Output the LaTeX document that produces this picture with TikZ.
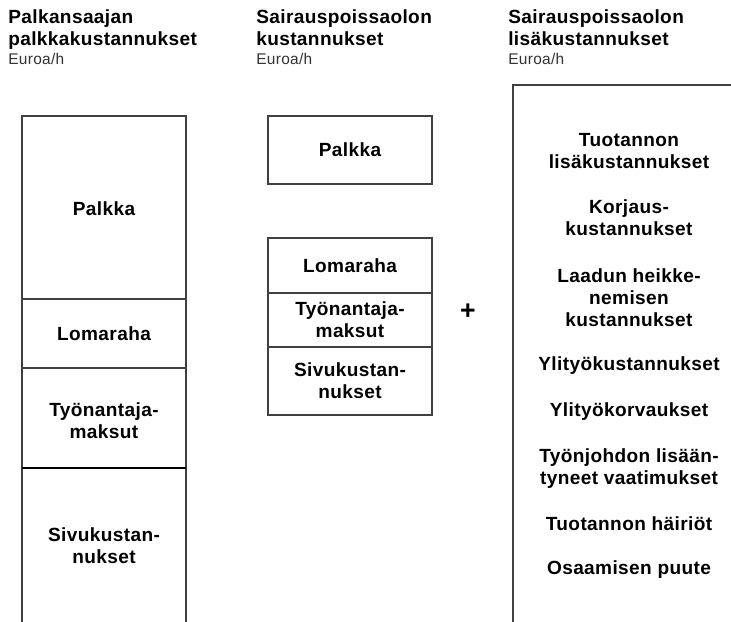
\documentclass[tikz,border=0pt]{standalone}
\usepackage{fontspec}
\setmainfont{Liberation Sans}[LetterSpace=2]
\begin{document}
\begin{tikzpicture}[x=0.75pt,y=-0.75pt,
  box/.style={draw=black!75,line width=0.8pt},
  lbl/.style={inner sep=0pt,align=center,font=\bfseries\fontsize{14.3}{16.5}\selectfont},
  head/.style={inner sep=0pt,anchor=base west,font=\bfseries\fontsize{14.3}{16.5}\selectfont},
  unit/.style={inner sep=0pt,anchor=base west,text=black!80,font=\fontsize{11.6}{13}\selectfont}]
\useasboundingbox[fill=white] (0,0) rectangle (731,621);
% headers
\node[head] (h1a) at (8,23) {Palkansaajan};
\node[head] (h1b) at (8,45) {palkkakustannukset};
\node[unit] (h1c) at (8,64) {Euroa/h};
\node[head] (h2a) at (256,23) {Sairauspoissaolon};
\node[head] (h2b) at (256,45) {kustannukset};
\node[unit] (h2c) at (256,64) {Euroa/h};
\node[head] (h3a) at (508,23) {Sairauspoissaolon};
\node[head] (h3b) at (508,45) {lisäkustannukset};
\node[unit] (h3c) at (508,64) {Euroa/h};
% left column
\draw[box] (22,640) -- (22,116) -- (186,116) -- (186,640);
\draw[box] (22,299) -- (186,299);
\draw[box] (22,368) -- (186,368);
\draw[black,line width=1.3pt] (22,468) -- (186,468);
\node[lbl] (l1) at (104,209) {Palkka};
\node[lbl] (l2) at (104,334) {Lomaraha};
\node[lbl] (l3) at (104,421) {Työnantaja-\\maksut};
\node[lbl] (l4) at (104,546) {Sivukustan-\\nukset};
% middle column
\draw[box] (268,116) rectangle (432,184);
\node[lbl] (m1) at (350,150) {Palkka};
\draw[box] (268,238) rectangle (432,415);
\draw[box] (268,293) -- (432,293);
\draw[box] (268,347) -- (432,347);
\node[lbl] (m2) at (350,266) {Lomaraha};
\node[lbl] (m3) at (350,320) {Työnantaja-\\maksut};
\node[lbl] (m4) at (350,381) {Sivukustan-\\nukset};
% plus
\node[inner sep=0pt,font=\bfseries\fontsize{20}{20}\selectfont] (plus) at (468,312) {+};
% right column
\draw[box] (513,640) -- (513,85) -- (740,85);
\node[lbl] (r1) at (629,151) {Tuotannon\\lisäkustannukset};
\node[lbl] (r2) at (629,218) {Korjaus-\\kustannukset};
\node[lbl] (r3) at (629,298) {Laadun heikke-\\nemisen\\kustannukset};
\node[lbl] (r4) at (629,366) {Ylityökustannukset};
\node[lbl] (r5) at (629,412) {Ylityökorvaukset};
\node[lbl] (r6) at (629,469) {Työnjohdon lisään-\\tyneet vaatimukset};
\node[lbl] (r7) at (629,524) {Tuotannon häiriöt};
\node[lbl] (r8) at (629,570) {Osaamisen puute};
\end{tikzpicture}
\end{document}
